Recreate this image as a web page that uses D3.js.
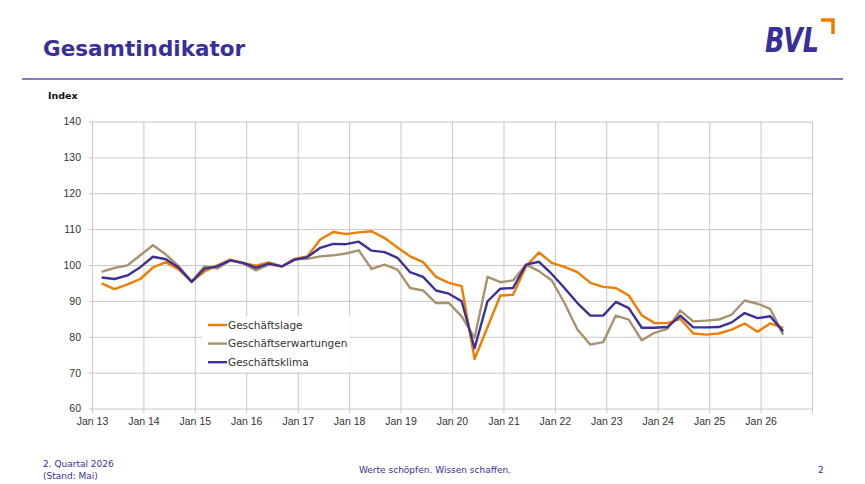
<!DOCTYPE html>
<html>
  <head>
    <meta charset="utf-8">
    <title>Gesamtindikator</title>
    <script src="https://cdn.jsdelivr.net/npm/d3@7"></script>
    <style>
      body { margin: 0; background: #fff; }
      #chart { display: block; font-family: "DejaVu Sans", Verdana, sans-serif; }
      .axis text { font-size: 10.5px; fill: #333; }
      .axis line { stroke: #c8c8c8; stroke-width: 1; }
      .axis path { display: none; }
      .series { fill: none; stroke-width: 2.4; stroke-linejoin: round; }
      .legendText { font-size: 10.5px; fill: #333; }
      .footer { font-size: 9px; fill: #3a2f9a; }
    </style>
  </head>

  <body>
    <svg id="chart" width="865" height="484"></svg>

    <script>
      // data: quarterly values, Q1 2013 to Q2 2026
      years = d3.range(2013, 2027);
      quarters = [];
      years.forEach(function(y) {
        [3, 6, 9, 12].forEach(function(m) {
          if (y < 2026 || m <= 6) quarters.push(new Date(y, m - 1, 10));
        });
      });

      lage = [
        94.9, 93.3, 94.6, 96.1,
        99.3, 100.8, 98.7, 95.4,
        98.2, 99.9, 101.5, 100.6,
        99.8, 100.7, 99.6, 101.7,
        102.4, 107.1, 109.2, 108.6,
        109.1, 109.4, 107.5, 104.9,
        102.4, 100.8, 96.7, 95.0,
        94.1, 73.8, 82.7, 91.5,
        91.7, 99.6, 103.5, 100.6,
        99.5, 98.0, 95.0, 93.9,
        93.6, 91.5, 86.0, 83.8,
        83.8, 85.0, 80.9, 80.6,
        80.9, 82.0, 83.7, 81.4,
        83.7, 82.5
      ];
      erwartungen = [
        98.1, 99.2, 99.9, 102.7,
        105.5, 102.9, 99.6, 95.3,
        99.6, 99.0, 101.3, 100.4,
        98.5, 100.1, 99.6, 101.5,
        101.7, 102.4, 102.7, 103.2,
        104.1, 98.9, 100.1, 98.7,
        93.6, 92.9, 89.4, 89.4,
        85.7, 79.7, 96.7, 95.2,
        95.7, 100.1, 98.3, 95.7,
        89.4, 82.0, 77.8, 78.5,
        85.9, 84.8, 79.0, 81.1,
        82.2, 87.3, 84.3, 84.5,
        84.8, 86.2, 90.1, 89.2,
        87.8, 80.6
      ];
      klima = [
        96.5, 96.1, 97.1, 99.4,
        102.3, 101.6, 99.2, 95.3,
        99.0, 99.6, 101.3, 100.6,
        99.2, 100.4, 99.6, 101.5,
        102.2, 104.8, 105.9, 105.8,
        106.5, 104.0, 103.6, 102.0,
        98.0, 96.7, 92.9, 92.0,
        89.9, 76.8, 89.9, 93.4,
        93.6, 100.1, 100.9, 97.5,
        93.6, 89.4, 85.9, 85.9,
        89.7, 88.0, 82.5, 82.5,
        82.7, 85.9, 82.6, 82.6,
        82.7, 84.0, 86.6, 85.2,
        85.7, 81.5
      ];

      seriesNames = ["Geschäftslage", "Geschäftserwartungen", "Geschäftsklima"];
      seriesColours = ["#f07d00", "#a8936f", "#3c2f98"];
      yTicks = [60, 70, 80, 90, 100, 110, 120, 130, 140];
      xTicks = d3.range(2013, 2028).map(function(y) { return new Date(y, 0, 1); });
      xTickLabels = ["Jan 13", "Jan 14", "Jan 15", "Jan 16", "Jan 17", "Jan 18", "Jan 19",
        "Jan 20", "Jan 21", "Jan 22", "Jan 23", "Jan 24", "Jan 25", "Jan 26", ""];

      // page elements
      chart = d3.select("#chart");
      blue = "#3a2f9a";

      // header
      chart.append("text")
        .attr("x", 43)
        .attr("y", 56)
        .attr("font-size", 21.5)
        .attr("font-weight", "bold")
        .attr("fill", blue)
        .text("Gesamtindikator");

      chart.append("text")
        .attr("x", 765)
        .attr("y", 52)
        .attr("font-family", "'DejaVu Sans Condensed', 'DejaVu Sans', sans-serif")
        .attr("font-size", 33)
        .attr("font-weight", "bold")
        .attr("font-style", "italic")
        .attr("textLength", 54)
        .attr("lengthAdjust", "spacingAndGlyphs")
        .attr("fill", blue)
        .text("BVL");
      chart.append("path")
        .attr("d", "M821,20 H833 V34")
        .attr("fill", "none")
        .attr("stroke", "#f07d00")
        .attr("stroke-width", 3.5);

      chart.append("line")
        .attr("x1", 22).attr("x2", 843)
        .attr("y1", 79).attr("y2", 79)
        .attr("stroke", "#5a50a8")
        .attr("stroke-width", 1.3);

      chart.append("text")
        .attr("x", 48)
        .attr("y", 99)
        .attr("font-size", 9.5)
        .attr("font-weight", "bold")
        .attr("fill", "#111")
        .text("Index");

      // scales
      x = d3.scaleTime()
        .domain([new Date(2013, 0, 1), new Date(2027, 0, 1)])
        .range([92, 812]);
      y = d3.scaleLinear()
        .domain([60, 140])
        .range([408.5, 121.5]);

      // axes doubling as gridlines
      xAxis = d3.axisBottom(x)
        .tickValues(xTicks)
        .tickFormat(function(d, i) { return xTickLabels[i]; })
        .tickSize(-(413 - 121.5))
        .tickPadding(5);
      chart.append("g")
        .attr("class", "axis")
        .attr("transform", "translate(0, 413)")
        .call(xAxis);

      yAxis = d3.axisLeft(y)
        .tickValues(yTicks)
        .tickSize(-(812 - 89))
        .tickPadding(8);
      chart.append("g")
        .attr("class", "axis")
        .attr("transform", "translate(89, 0)")
        .call(yAxis);

      // lines
      line = d3.line()
        .x(function(d, i) { return x(quarters[i]); })
        .y(function(d) { return y(d); });

      chart.selectAll(".series")
          .data([erwartungen, lage, klima])
        .enter().append("path")
          .attr("class", "series")
          .attr("stroke", function(d, i) { return [seriesColours[1], seriesColours[0], seriesColours[2]][i]; })
          .attr("d", line);

      // legend
      legend = chart.append("g");
      legend.append("rect")
        .attr("x", 202).attr("y", 316)
        .attr("width", 148).attr("height", 56)
        .attr("fill", "#fff");
      legendItems = legend.selectAll(".legendItem")
          .data(seriesNames)
        .enter().append("g")
          .attr("transform", function(d, i) { return "translate(0, " + (325 + i * 18.6) + ")"; });
      legendItems.append("line")
        .attr("x1", 208).attr("x2", 227)
        .attr("stroke-width", 2.4)
        .attr("stroke", function(d, i) { return seriesColours[i]; });
      legendItems.append("text")
        .attr("class", "legendText")
        .attr("x", 228)
        .attr("dy", "0.36em")
        .text(function(d) { return d; });

      // footer
      chart.append("text").attr("class", "footer")
        .attr("x", 43).attr("y", 467)
        .text("2. Quartal 2026");
      chart.append("text").attr("class", "footer")
        .attr("x", 43).attr("y", 479)
        .text("(Stand: Mai)");
      chart.append("text").attr("class", "footer")
        .attr("x", 435).attr("y", 473)
        .attr("text-anchor", "middle")
        .text("Werte schöpfen. Wissen schaffen.");
      chart.append("text").attr("class", "footer")
        .attr("x", 818).attr("y", 473)
        .text("2");
    </script>
  </body>
</html>
